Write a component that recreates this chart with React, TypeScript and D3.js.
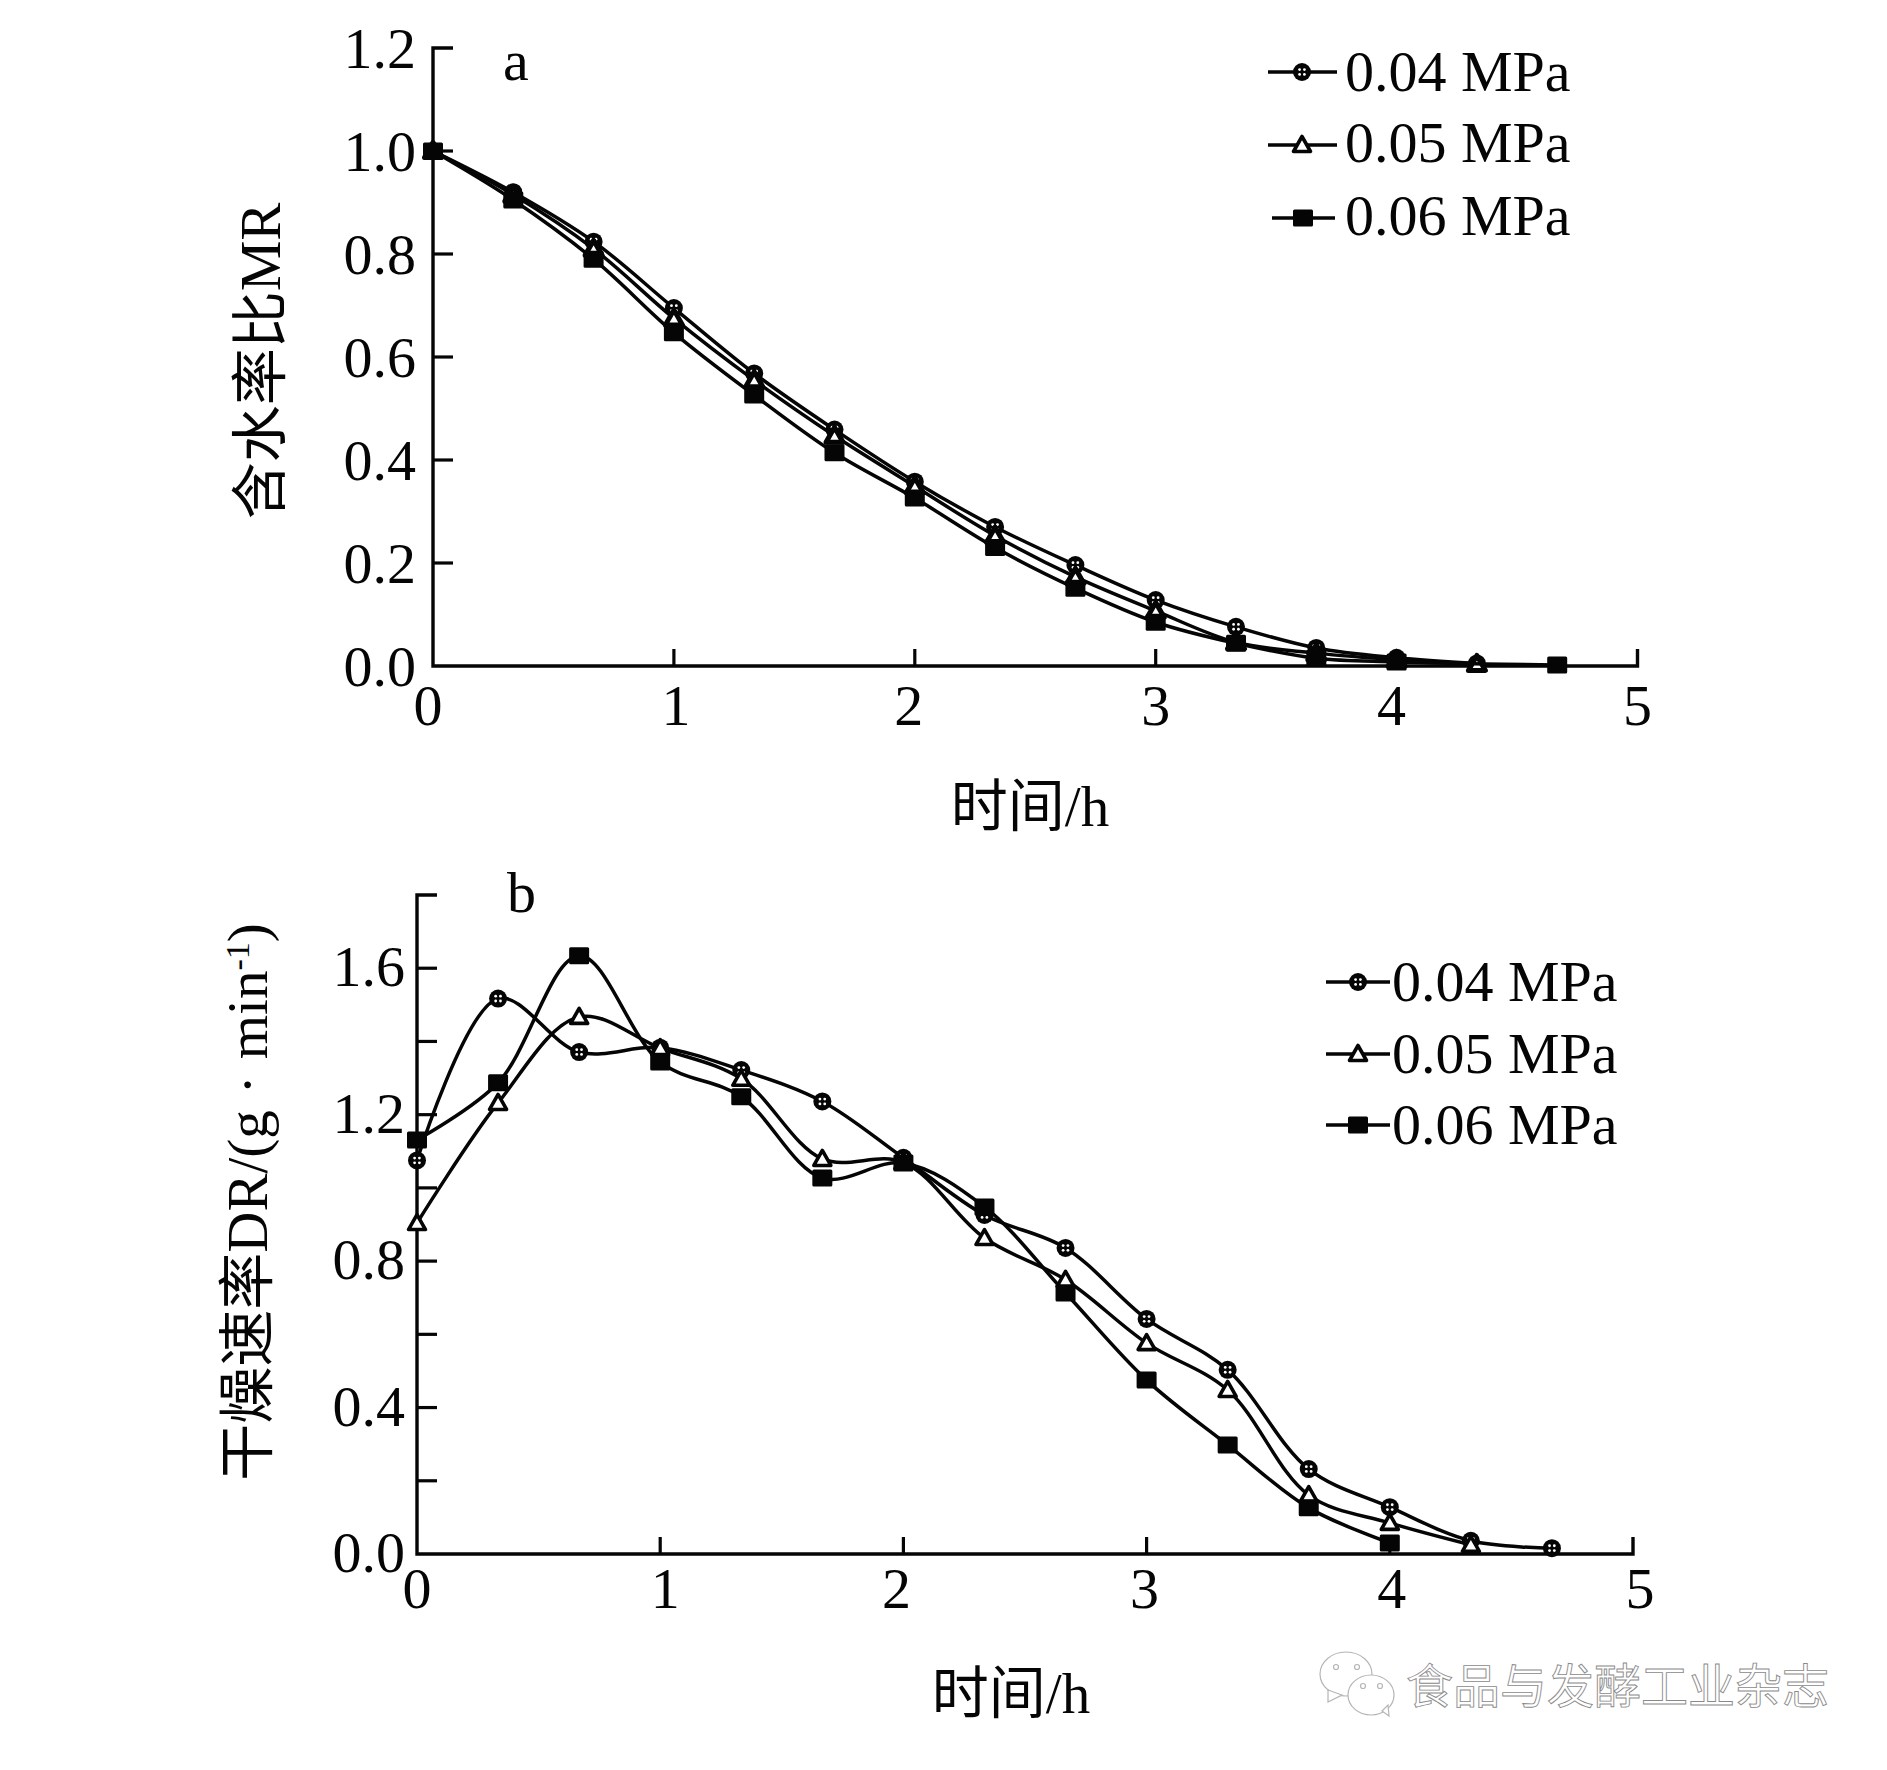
import React from "react";
import * as d3 from "d3";

const W = 1887;
const H = 1770;

const pressureLabels = ["0.04 MPa", "0.05 MPa", "0.06 MPa"];
const hoursCircle = [0, 1 / 3, 2 / 3, 1, 4 / 3, 5 / 3, 2, 7 / 3, 8 / 3, 3, 10 / 3, 11 / 3, 4, 13 / 3];
const hoursTriangle = [0, 1 / 3, 2 / 3, 1, 4 / 3, 5 / 3, 2, 7 / 3, 8 / 3, 3, 10 / 3, 11 / 3, 4, 13 / 3];
const hoursSquareA = [0, 1 / 3, 2 / 3, 1, 4 / 3, 5 / 3, 2, 7 / 3, 8 / 3, 3, 10 / 3, 11 / 3, 4, 14 / 3];

const mr004 = [1, 0.92, 0.824, 0.695, 0.568, 0.459, 0.358, 0.27, 0.196, 0.128, 0.076, 0.035, 0.016, 0.005];
const mr005 = [1, 0.915, 0.81, 0.675, 0.555, 0.447, 0.349, 0.253, 0.173, 0.107, 0.046, 0.025, 0.012, 0.004];
const mr006 = [1, 0.905, 0.79, 0.647, 0.526, 0.414, 0.326, 0.23, 0.151, 0.085, 0.044, 0.015, 0.008, 0.002];

const hoursCircleB = [0, 1 / 3, 2 / 3, 1, 4 / 3, 5 / 3, 2, 7 / 3, 8 / 3, 3, 10 / 3, 11 / 3, 4, 13 / 3, 14 / 3];
const hoursTriangleB = [0, 1 / 3, 2 / 3, 1, 4 / 3, 5 / 3, 2, 7 / 3, 8 / 3, 3, 10 / 3, 11 / 3, 4, 13 / 3];
const hoursSquareB = [0, 1 / 3, 2 / 3, 1, 4 / 3, 5 / 3, 2, 7 / 3, 8 / 3, 3, 10 / 3, 11 / 3, 4];

const dr004 = [1.075, 1.517, 1.371, 1.383, 1.322, 1.236, 1.082, 0.926, 0.836, 0.642, 0.503, 0.232, 0.128, 0.036, 0.016];
const dr005 = [0.904, 1.232, 1.467, 1.382, 1.298, 1.079, 1.07, 0.863, 0.749, 0.576, 0.448, 0.161, 0.085, 0.025];
const dr006 = [1.131, 1.287, 1.634, 1.344, 1.249, 1.027, 1.068, 0.948, 0.713, 0.475, 0.298, 0.126, 0.03];

const xTicks = [0, 1, 2, 3, 4, 5];
const yTicksA = [0, 0.2, 0.4, 0.6, 0.8, 1.0, 1.2];
const yTicksB = [0, 0.2, 0.4, 0.6, 0.8, 1.0, 1.2, 1.4, 1.6, 1.8];
const yLabelsB = [0, 0.4, 0.8, 1.2, 1.6];
const watermarkText = "食品与发酵工业杂志";

// Hand-set offsets of the x tick labels from their ticks, as typeset in the source.
const labelNudgeA = [-5, 2, -6, 0, -5, 0];
const labelNudgeB = [0, 5, -7, -2, 2, 7];

const FONT = "'Liberation Serif', 'Noto Sans CJK SC', serif";
const INK = "#050505";

type Kind = "circle" | "triangle" | "square";

function Marker({ kind, x, y, heavy }: { kind: Kind; x: number; y: number; heavy?: boolean }) {
  if (kind === "circle") {
    return (
      <g transform={`translate(${x},${y})`}>
        <circle r={9} fill={INK} />
        <circle cx={-2.4} cy={-2.4} r={1.4} fill="#fff" />
        <circle cx={2.4} cy={-2.4} r={1.4} fill="#fff" />
        <circle cx={-2.4} cy={2.4} r={1.4} fill="#fff" />
        <circle cx={2.4} cy={2.4} r={1.4} fill="#fff" />
      </g>
    );
  }
  if (kind === "triangle") {
    return (
      <path
        transform={`translate(${x},${y})`}
        d="M0,-8.5 L8.5,6.5 L-8.5,6.5 Z"
        fill="#fff"
        stroke={INK}
        strokeWidth={heavy ? 5 : 3.6}
        strokeLinejoin="round"
      />
    );
  }
  return <rect x={x - 10} y={y - 8.5} width={20} height={17} rx={1.5} fill={INK} />;
}

function Series({ xs, ys, kind, sx, sy, curve, heavy }: any) {
  const pts: [number, number][] = xs.map((t: number, i: number) => [sx(t), sy(ys[i])]);
  const line = d3.line().curve(curve)(pts) as string;
  return (
    <g>
      <path d={line} fill="none" stroke={INK} strokeWidth={3.5} />
      {pts.map((p, i) => (
        <Marker key={i} kind={kind} x={p[0]} y={p[1]} heavy={heavy} />
      ))}
    </g>
  );
}

function Legend({ rows }: { rows: { y: number; x0: number; x1: number; mx: number; tx: number; base: number; kind: Kind; label: string }[] }) {
  return (
    <g>
      {rows.map((r) => (
        <g key={r.label}>
          <line x1={r.x0} x2={r.x1} y1={r.y} y2={r.y} stroke={INK} strokeWidth={3.5} />
          <Marker kind={r.kind} x={r.mx} y={r.y} />
          <text x={r.tx} y={r.base} fontSize={58} fontFamily={FONT} fill={INK}>
            {r.label}
          </text>
        </g>
      ))}
    </g>
  );
}

export default function App() {
  const xA = d3.scaleLinear().domain([0, 5]).range([433, 1637.5]);
  const yA = d3.scaleLinear().domain([0, 1.2]).range([666, 48]);
  const xB = d3.scaleLinear().domain([0, 5]).range([417, 1633]);
  const yB = d3.scaleLinear().domain([0, 1.8]).range([1554, 895]);
  const curve = d3.curveCatmullRom.alpha(0.5);

  return (
    <svg
      width={W}
      height={H}
      viewBox={`0 0 ${W} ${H}`}
      style={{ position: "absolute", left: 0, top: 0, display: "block", background: "#fff" }}
    >
      {/* Panel a */}
      <g stroke={INK} fill="none">
        <path d={`M${xA(0) + 20},${yA(1.2)} H${xA(0)} V${yA(0)} H${xA(5)} V${yA(0) - 17}`} strokeWidth={3.4} />
        {yTicksA.slice(1, -1).map((v) => (
          <line key={v} x1={xA(0)} x2={xA(0) + 20} y1={yA(v)} y2={yA(v)} strokeWidth={3.2} />
        ))}
        {xTicks.slice(1, -1).map((v) => (
          <line key={v} x1={xA(v)} x2={xA(v)} y1={yA(0)} y2={yA(0) - 17} strokeWidth={3.2} />
        ))}
      </g>
      {yTicksA.map((v) => (
        <text key={v} x={416} y={yA(v) + 20} textAnchor="end" fontSize={58} fontFamily={FONT} fill={INK}>
          {v.toFixed(1)}
        </text>
      ))}
      {xTicks.map((v, i) => (
        <text key={v} x={xA(v) + labelNudgeA[i]} y={725} textAnchor="middle" fontSize={58} fontFamily={FONT} fill={INK}>
          {v}
        </text>
      ))}
      <text x={503} y={80} fontSize={58} fontFamily={FONT} fill={INK}>a</text>
      <text x={1030} y={826} textAnchor="middle" fontSize={57} fontFamily={FONT} fill={INK}>时间/h</text>
      <text transform="translate(280,361) rotate(-90)" textAnchor="middle" fontSize={57} fontFamily={FONT} fill={INK}>含水率比MR</text>
      <Series xs={hoursCircle} ys={mr004} kind="circle" sx={xA} sy={yA} curve={curve} />
      <Series xs={hoursTriangle} ys={mr005} kind="triangle" sx={xA} sy={yA} curve={curve} heavy />
      <Series xs={hoursSquareA} ys={mr006} kind="square" sx={xA} sy={yA} curve={curve} />
      <Legend
        rows={[
          { y: 72, x0: 1268, x1: 1337, mx: 1302, tx: 1345, base: 91, kind: "circle", label: pressureLabels[0] },
          { y: 145, x0: 1268, x1: 1337, mx: 1302, tx: 1345, base: 162, kind: "triangle", label: pressureLabels[1] },
          { y: 218, x0: 1272, x1: 1335, mx: 1303, tx: 1345, base: 235, kind: "square", label: pressureLabels[2] },
        ]}
      />

      {/* Panel b */}
      <g stroke={INK} fill="none">
        <path d={`M${xB(0) + 20},${yB(1.8)} H${xB(0)} V${yB(0)} H${xB(5)} V${yB(0) - 17}`} strokeWidth={3.4} />
        {yTicksB.slice(1, -1).map((v) => (
          <line key={v} x1={xB(0)} x2={xB(0) + 20} y1={yB(v)} y2={yB(v)} strokeWidth={3.2} />
        ))}
        {xTicks.slice(1, -1).map((v) => (
          <line key={v} x1={xB(v)} x2={xB(v)} y1={yB(0)} y2={yB(0) - 17} strokeWidth={3.2} />
        ))}
      </g>
      {yLabelsB.map((v) => (
        <text key={v} x={405} y={yB(v) + 18} textAnchor="end" fontSize={58} fontFamily={FONT} fill={INK}>
          {v.toFixed(1)}
        </text>
      ))}
      {xTicks.map((v, i) => (
        <text key={v} x={xB(v) + labelNudgeB[i]} y={1608} textAnchor="middle" fontSize={58} fontFamily={FONT} fill={INK}>
          {v}
        </text>
      ))}
      <text x={507} y={912} fontSize={58} fontFamily={FONT} fill={INK}>b</text>
      <text x={1011} y={1713} textAnchor="middle" fontSize={57} fontFamily={FONT} fill={INK}>时间/h</text>
      <text transform="translate(267,1202) rotate(-90)" textAnchor="middle" fontSize={57} fontFamily={FONT} fill={INK}>
        干燥速率DR/(g<tspan dx={16}>·</tspan><tspan dx={16}>min</tspan><tspan dy={-18} fontSize={34}>-1</tspan><tspan dy={18}>)</tspan>
      </text>
      <Series xs={hoursCircleB} ys={dr004} kind="circle" sx={xB} sy={yB} curve={curve} />
      <Series xs={hoursTriangleB} ys={dr005} kind="triangle" sx={xB} sy={yB} curve={curve} />
      <Series xs={hoursSquareB} ys={dr006} kind="square" sx={xB} sy={yB} curve={curve} />
      <Legend
        rows={[
          { y: 982, x0: 1326, x1: 1390, mx: 1358, tx: 1392, base: 1001, kind: "circle", label: pressureLabels[0] },
          { y: 1054, x0: 1326, x1: 1390, mx: 1358, tx: 1392, base: 1073, kind: "triangle", label: pressureLabels[1] },
          { y: 1125, x0: 1326, x1: 1390, mx: 1358, tx: 1392, base: 1144, kind: "square", label: pressureLabels[2] },
        ]}
      />

      {/* Watermark */}
      <g fill="#fff" stroke="#b5b5b5" strokeWidth={1.2}>
        <ellipse cx={1346} cy={1674} rx={26} ry={22} />
        <path d="M1328,1690 L1328,1702 L1342,1695 Z" />
        <ellipse cx={1371} cy={1695} rx={23} ry={20} />
        <path d="M1382,1711 L1389,1716 L1388,1705 Z" />
        <circle cx={1336} cy={1667} r={2.5} />
        <circle cx={1357} cy={1667} r={2.5} />
        <circle cx={1363} cy={1686} r={2.5} />
        <circle cx={1380} cy={1686} r={2.5} />
      </g>
      <text
        x={1406}
        y={1703}
        fontSize={47}
        fontFamily="'Noto Sans CJK SC'"
        fill="#fff"
        stroke="#8a8a8a"
        strokeWidth={0.9}
      >
        {watermarkText}
      </text>
    </svg>
  );
}
